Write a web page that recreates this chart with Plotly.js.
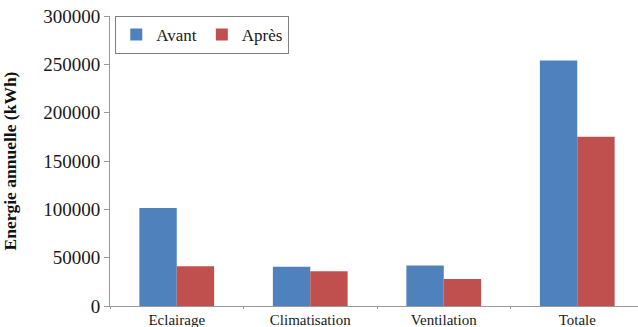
<!DOCTYPE html>
<html>
<head>
<meta charset="utf-8">
<script src="https://cdn.plot.ly/plotly-3.0.1.min.js"></script>
<style>
  html, body { margin: 0; padding: 0; background: #ffffff; }
  #chart { width: 638px; height: 327px; }
</style>
</head>
<body>
<div id="chart"></div>
<script>
// Annual energy use per end use, before and after the retrofit (kWh)
const categories = ["Eclairage", "Climatisation", "Ventilation", "Totale"];
const avant = [101500, 40500, 42000, 254000];
const apres = [41000, 36000, 28000, 175000];
const yTicks = [0, 50000, 100000, 150000, 200000, 250000, 300000];

const serif = "Liberation Serif, Times New Roman, serif";

const traces = [
  {
    type: "bar",
    name: "Avant",
    x: categories,
    y: avant,
    marker: { color: "#4F81BD" },
    hoverinfo: "x+y+name"
  },
  {
    type: "bar",
    name: "Après",
    x: categories,
    y: apres,
    marker: { color: "#C0504D" },
    hoverinfo: "x+y+name"
  }
];

const layout = {
  width: 638,
  height: 327,
  margin: { l: 110, r: 0, t: 16, b: 21, pad: 0 },
  paper_bgcolor: "#ffffff",
  plot_bgcolor: "#ffffff",
  barmode: "group",
  bargap: 0.44,
  bargroupgap: 0,
  showlegend: true,
  legend: {
    orientation: "h",
    x: 0.01,
    y: 1,
    xanchor: "left",
    yanchor: "top",
    bgcolor: "#ffffff",
    bordercolor: "#808080",
    borderwidth: 1,
    font: { family: serif, size: 17, color: "#1a1a1a" },
    itemwidth: 30,
    tracegroupgap: 0
  },
  xaxis: {
    type: "category",
    range: [-0.5, 3.455],
    showline: true,
    linecolor: "#9a9a9a",
    linewidth: 1,
    ticks: "outside",
    tickson: "boundaries",
    ticklen: 2,
    tickcolor: "#9a9a9a",
    showgrid: false,
    zeroline: false,
    tickfont: { family: serif, size: 15, color: "#1a1a1a" },
    fixedrange: true
  },
  yaxis: {
    range: [0, 300000],
    tickvals: yTicks,
    ticktext: yTicks.map(String),
    showline: true,
    linecolor: "#9a9a9a",
    linewidth: 1,
    ticks: "outside",
    ticklen: 5,
    tickcolor: "#9a9a9a",
    showgrid: false,
    zeroline: false,
    tickfont: { family: serif, size: 19, color: "#1a1a1a" },
    title: {
      text: "<b>Energie annuelle (kWh)</b>",
      font: { family: serif, size: 17.5, color: "#111111" },
      standoff: 68
    },
    fixedrange: true
  }
};

Plotly.newPlot("chart", traces, layout, { displayModeBar: false, staticPlot: true });
</script>
</body>
</html>
